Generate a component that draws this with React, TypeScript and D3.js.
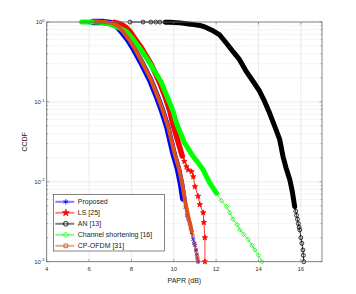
import React from 'react';
import * as d3 from 'd3';

// PAPR (dB), CCDF pairs
const proposed: [number, number][] = [
  [6.2, 1], [6.6, 0.998], [7.0, 0.975], [7.3, 0.9], [7.55, 0.76], [7.85, 0.6], [8.1, 0.47],
  [8.5, 0.3], [8.9, 0.185], [9.2, 0.118], [9.45, 0.078], [9.7, 0.048], [10.0, 0.022],
  [10.2, 0.0145], [10.35, 0.0092], [10.45, 0.0062], [10.55, 0.0048], [10.62, 0.0038],
  [10.68, 0.0034], [10.75, 0.003], [10.8, 0.0026], [10.85, 0.0023], [10.92, 0.0019],
  [10.96, 0.0017], [11.0, 0.0016], [11.05, 0.0014], [11.08, 0.00125], [11.12, 0.0011],
  [11.15, 0.001]
];
const ls: [number, number][] = [
  [6.75, 1], [7.2, 0.99], [7.5, 0.94], [7.75, 0.85], [7.95, 0.75], [8.2, 0.6], [8.48, 0.47],
  [8.95, 0.29], [9.33, 0.175], [9.6, 0.115], [9.82, 0.076], [9.95, 0.054], [10.2, 0.032],
  [10.4, 0.021], [10.5, 0.018], [10.6, 0.0155], [10.68, 0.0141], [10.84, 0.0134],
  [10.92, 0.0116], [11.0, 0.0087], [11.15, 0.0066], [11.23, 0.0052], [11.39, 0.0041],
  [11.42, 0.0031], [11.47, 0.002], [11.47, 0.001]
];
const an: [number, number][] = [
  [7.93, 1], [8.55, 0.9995], [8.92, 0.999], [9.15, 0.998], [9.35, 0.997], [9.6, 0.995],
  [9.82, 0.992], [10.3, 0.975], [10.8, 0.94], [11.23, 0.905], [11.5, 0.86], [11.8, 0.79],
  [12.17, 0.688], [12.49, 0.542], [12.8, 0.425], [13.1, 0.34], [13.43, 0.239], [13.75, 0.18],
  [14.06, 0.135], [14.3, 0.1], [14.53, 0.072], [14.8, 0.047], [15.0, 0.034], [15.16, 0.0207],
  [15.3, 0.015], [15.48, 0.0106], [15.6, 0.0075], [15.71, 0.0049], [15.76, 0.0043],
  [15.8, 0.0038], [15.84, 0.0034], [15.88, 0.003], [15.92, 0.0027], [15.95, 0.0025],
  [16.0, 0.002], [16.05, 0.0017], [16.1, 0.0014], [16.12, 0.0012], [16.14, 0.001]
];
const shortening: [number, number][] = [
  [5.65, 1], [5.85, 1], [6.05, 0.999], [6.25, 0.998], [6.5, 0.99], [6.8, 0.97], [7.1, 0.92],
  [7.4, 0.85], [7.77, 0.76], [8.1, 0.6], [8.4, 0.47], [8.92, 0.29], [9.4, 0.179],
  [9.72, 0.111], [9.97, 0.076], [10.13, 0.054], [10.5, 0.031], [10.92, 0.0207], [11.1, 0.018],
  [11.39, 0.0141], [11.7, 0.0096], [12.02, 0.0072], [12.25, 0.0058], [12.49, 0.0049],
  [12.65, 0.0041], [12.8, 0.0034], [13.0, 0.0029], [13.12, 0.0025], [13.3, 0.0022],
  [13.51, 0.0019], [13.7, 0.0016], [13.83, 0.0014], [14.0, 0.0012], [14.17, 0.001]
];
const cpOfdm: [number, number][] = [
  [6.3, 1], [6.7, 0.997], [7.05, 0.975], [7.35, 0.9], [7.6, 0.76], [7.9, 0.6], [8.15, 0.47],
  [8.55, 0.3], [8.95, 0.183], [9.25, 0.115], [9.5, 0.076], [9.75, 0.047], [10.05, 0.022],
  [10.25, 0.0145], [10.42, 0.0088], [10.52, 0.006], [10.6, 0.0047], [10.68, 0.0037],
  [10.78, 0.0029], [10.85, 0.0024], [10.9, 0.0021], [10.98, 0.0017], [11.05, 0.0014],
  [11.1, 0.0012], [11.12, 0.0011], [11.15, 0.001]
];

const xTicks = [4, 6, 8, 10, 12, 14, 16];
const yTicks = [1, 0.1, 0.01, 0.001];
const yExponents = ['0', '-1', '-2', '-3'];

const W = 356;
const H = 294;
const margin = { left: 46.7, right: 34, top: 22, bottom: 32.3 };
const font = 'Liberation Sans, Arial, Helvetica, sans-serif';

const sym = (d3 as any);
// band = width of the dense-marker stripe; bandMin/bandFrom = where markers stop merging
const series = [
  { name: 'Proposed', data: proposed, color: '#0000ff', shape: sym.symbolAsterisk || d3.symbolCross, size: 14, filled: false, band: 6.5, bandMin: 0.005, bandFrom: 0 },
  { name: 'LS [25]', data: ls, color: '#ff0000', shape: d3.symbolStar, size: 9, filled: true, band: 5.5, bandMin: 0.02, bandFrom: 6.9 },
  { name: 'AN [13]', data: an, color: '#000000', shape: d3.symbolCircle, size: 12, filled: false, band: 5, bandMin: 0.0045, bandFrom: 9.6 },
  { name: 'Channel shortening [16]', data: shortening, color: '#00ff00', shape: sym.symbolDiamond2 || d3.symbolDiamond, size: 13, filled: false, band: 5, bandMin: 0.0065, bandFrom: 0 },
  { name: 'CP-OFDM [31]', data: cpOfdm, color: '#D95319', shape: d3.symbolSquare, size: 8, filled: false, band: 4, bandMin: 0.0023, bandFrom: 0 }
];

export default function App() {
  const x = d3.scaleLinear().domain([4, 17]).range([margin.left, W - margin.right]);
  const y = d3.scaleLog().domain([0.001, 1]).range([H - margin.bottom, margin.top]);
  const lineFn = d3.line<[number, number]>().x(d => x(d[0])).y(d => y(d[1]));

  const x0 = x.range()[0], x1 = x.range()[1];
  const y0 = y.range()[0], y1 = y.range()[1];

  // minor y values (2..9 per decade)
  const minors: number[] = [];
  [0.001, 0.01, 0.1].forEach(dec => {
    for (let k = 2; k <= 9; k++) minors.push(dec * k);
  });

  const legend = { x: 53.3, y: 194.3, w: 111, h: 56.7, row: 11 };

  return (
    <svg width={W} height={H} style={{ position: 'absolute', left: 0, top: 0, background: '#fff' }} fontFamily={font}>
      <rect x={x0} y={y1} width={x1 - x0} height={y0 - y1} fill="#fff" />
      {/* grid */}
      {minors.map(v => (
        <line key={'mg' + v} x1={x0} x2={x1} y1={y(v)} y2={y(v)} stroke="#d4d4d4" strokeWidth={0.6} strokeDasharray="1,1.5" />
      ))}
      {yTicks.map(v => (
        <line key={'yg' + v} x1={x0} x2={x1} y1={y(v)} y2={y(v)} stroke="#e3e3e3" strokeWidth={0.7} />
      ))}
      {xTicks.map(v => (
        <line key={'xg' + v} x1={x(v)} x2={x(v)} y1={y0} y2={y1} stroke="#e3e3e3" strokeWidth={0.7} />
      ))}

      {/* series */}
      <g clipPath="url(#plotClip)">
        {series.map(s => {
          const inBand = (d: [number, number]) => d[1] >= s.bandMin && d[0] >= s.bandFrom;
          const dense = s.data.filter(inBand);
          const sparse = s.data.filter(d => !inBand(d));
          return (
            <g key={s.name}>
              <path d={lineFn(s.data) || ''} fill="none" stroke={s.color} strokeWidth={0.8} />
              <path d={lineFn(dense) || ''} fill="none" stroke={s.color} strokeWidth={s.band} strokeLinejoin="round" strokeLinecap="round" />
              {sparse.map((d, i) => (
                <path
                  key={i}
                  transform={`translate(${x(d[0])},${y(d[1])})`}
                  d={d3.symbol().type(s.shape).size(s.size)() || ''}
                  fill={s.filled ? s.color : 'none'}
                  stroke={s.color}
                  strokeWidth={0.8}
                />
              ))}
            </g>
          );
        })}
      </g>
      <defs>
        <clipPath id="plotClip">
          <rect x={x0 - 4} y={y1 - 4} width={x1 - x0 + 8} height={y0 - y1 + 8} />
        </clipPath>
      </defs>

      {/* axes box */}
      <rect x={x0} y={y1} width={x1 - x0} height={y0 - y1} fill="none" stroke="#6a6a6a" strokeWidth={0.8} />
      {xTicks.map(v => (
        <g key={'xt' + v}>
          <line x1={x(v)} x2={x(v)} y1={y0} y2={y0 - 2.5} stroke="#6a6a6a" strokeWidth={0.6} />
          <line x1={x(v)} x2={x(v)} y1={y1} y2={y1 + 2.5} stroke="#6a6a6a" strokeWidth={0.6} />
          <text x={x(v)} y={y0 + 9.5} fontSize={6} fill="#333" textAnchor="middle">{v}</text>
        </g>
      ))}
      {minors.map(v => (
        <g key={'myt' + v}>
          <line x1={x0} x2={x0 + 1.5} y1={y(v)} y2={y(v)} stroke="#6a6a6a" strokeWidth={0.5} />
          <line x1={x1} x2={x1 - 1.5} y1={y(v)} y2={y(v)} stroke="#6a6a6a" strokeWidth={0.5} />
        </g>
      ))}
      {yTicks.map((v, i) => (
        <g key={'yt' + v}>
          <line x1={x0} x2={x0 + 2.5} y1={y(v)} y2={y(v)} stroke="#6a6a6a" strokeWidth={0.6} />
          <line x1={x1} x2={x1 - 2.5} y1={y(v)} y2={y(v)} stroke="#6a6a6a" strokeWidth={0.6} />
          <text x={x0 - 2} y={y(v) + 2.2} fontSize={6} fill="#333" textAnchor="end">
            10<tspan dy={-2.6} fontSize={4.2}>{yExponents[i]}</tspan>
          </text>
        </g>
      ))}

      {/* axis labels */}
      <text x={(x0 + x1) / 2} y={H - 11} fontSize={7} fill="#222" textAnchor="middle">PAPR (dB)</text>
      <text transform={`translate(${26.5},${(y0 + y1) / 2}) rotate(-90)`} fontSize={7} fill="#222" textAnchor="middle">CCDF</text>

      {/* legend */}
      <rect x={legend.x} y={legend.y} width={legend.w} height={legend.h} fill="#fff" stroke="#333" strokeWidth={0.6} />
      {series.map((s, i) => {
        const ly = legend.y + 7.5 + i * legend.row;
        return (
          <g key={'lg' + s.name}>
            <line x1={legend.x + 2} x2={legend.x + 21} y1={ly} y2={ly} stroke={s.color} strokeOpacity={0.5} strokeWidth={2} />
            <path
              transform={`translate(${legend.x + 12.5},${ly})`}
              d={d3.symbol().type(s.shape).size(s.size + 6)() || ''}
              fill={s.filled ? s.color : 'none'}
              stroke={s.color}
              strokeWidth={0.8}
            />
            <text x={legend.x + 24.5} y={ly + 2.5} fontSize={7} fill="#222">{s.name}</text>
          </g>
        );
      })}
    </svg>
  );
}
